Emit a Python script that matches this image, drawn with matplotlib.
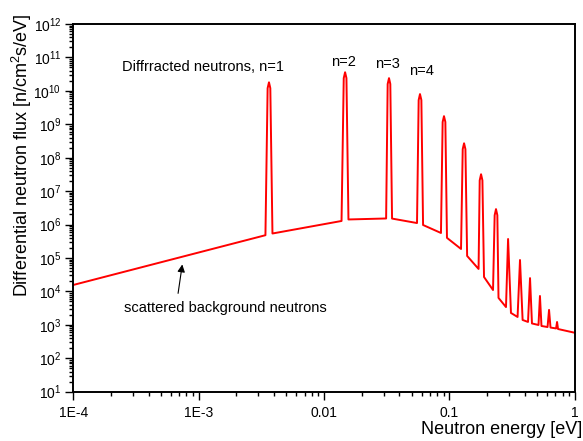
import numpy as np
import matplotlib
matplotlib.use("Agg")
import matplotlib.pyplot as plt
from matplotlib.ticker import LogLocator, FixedLocator, FixedFormatter, NullFormatter, LogFormatterSciNotation

plt.rcParams['font.family'] = ['Liberation Sans', 'DejaVu Sans']
plt.rcParams['mathtext.fontset'] = 'custom'
plt.rcParams['mathtext.rm'] = 'Liberation Sans'
plt.rcParams['mathtext.it'] = 'Liberation Sans:italic'

# Background start / end of the spectrum [eV, n/cm2/s/eV]
start_energy, start_flux = 1e-4, 1.56e4
end_energy, end_flux = 1.0, 580

# Diffraction peaks (order n = 1..14): top of each peak
peak_energy = [3.64e-3, 1.473e-2, 3.30e-2, 5.83e-2, 9.06e-2, 0.131, 0.179,
               0.2355, 0.294, 0.366, 0.440, 0.528, 0.624, 0.723]
peak_flux = [1.8e10, 3.6e10, 2.4e10, 8.0e9, 1.75e9, 2.7e8, 3.2e7,
             2.9e6, 3.7e5, 8.7e4, 2.5e4, 7.3e3, 2.8e3, 1.22e3]

# shoulders just under the rounded tops of the tall peaks (n = 1..8)
shoulder_left = [3.55e-3, 1.437e-2, 3.22e-2, 5.69e-2, 8.84e-2, 0.1278, 0.1746, 0.2298]
shoulder_right = [3.73e-3, 1.510e-2, 3.38e-2, 5.98e-2, 9.29e-2, 0.1343, 0.1835, 0.2414]
shoulder_flux = [1.2e10, 2.4e10, 1.6e10, 5.3e9, 1.17e9, 1.8e8, 2.1e7, 1.9e6]

# Background level just below / above each peak
left_energy = [3.41e-3, 1.38e-2, 3.13e-2, 5.52e-2, 8.57e-2, 0.1239, 0.171,
               0.223, 0.283, 0.350, 0.424, 0.514, 0.607, 0.710]
left_flux = [4.8e5, 1.28e6, 1.52e6, 1.11e6, 5.6e5, 1.86e5, 4.7e4,
             1.1e4, 3.4e3, 1.72e3, 1.22e3, 990, 860, 780]
right_energy = [3.88e-3, 1.567e-2, 3.49e-2, 6.17e-2, 9.57e-2, 0.1386, 0.189,
                0.2466, 0.310, 0.384, 0.456, 0.543, 0.641, 0.736]
right_flux = [5.4e5, 1.42e6, 1.51e6, 9.7e5, 4.0e5, 1.15e5, 2.7e4,
              6.4e3, 2.27e3, 1.4e3, 1.1e3, 925, 830, 750]

xtick_values = [1e-4, 1e-3, 1e-2, 1e-1, 1]
xtick_labels = ["1E-4", "1E-3", "0.01", "0.1", "1"]

# build the spectrum polyline
E = [start_energy]
F = [start_flux]
for i in range(len(peak_energy)):
    E.append(left_energy[i]); F.append(left_flux[i])
    if i < len(shoulder_flux):
        E += [shoulder_left[i], peak_energy[i], shoulder_right[i]]
        F += [shoulder_flux[i], peak_flux[i], shoulder_flux[i]]
    else:
        E.append(peak_energy[i]); F.append(peak_flux[i])
    E.append(right_energy[i]); F.append(right_flux[i])
E.append(end_energy)
F.append(end_flux)

fig = plt.figure(figsize=(5.83, 4.41), dpi=100)
ax = fig.add_axes([0.1257, 0.1118, 0.8601, 0.8338])

ax.plot(E, F, color="red", lw=1.4, solid_joinstyle="round")

ax.set_xscale("log")
ax.set_yscale("log")
ax.set_xlim(1e-4, 1)
ax.set_ylim(10, 1e12)

ax.xaxis.set_major_locator(FixedLocator(xtick_values))
ax.xaxis.set_major_formatter(FixedFormatter(xtick_labels))
ax.xaxis.set_minor_locator(LogLocator(base=10, subs=np.arange(2, 10), numticks=50))
ax.xaxis.set_minor_formatter(NullFormatter())
ax.yaxis.set_major_locator(LogLocator(base=10, numticks=30))
ax.yaxis.set_major_formatter(LogFormatterSciNotation())
ax.yaxis.set_minor_locator(LogLocator(base=10, subs=np.arange(2, 10), numticks=100))
ax.yaxis.set_minor_formatter(NullFormatter())

ax.tick_params(which="both", direction="out", top=False, right=False, width=1.0, labelsize=10)
ax.tick_params(which="major", length=5.5)
ax.tick_params(axis="x", which="major", pad=5)
ax.tick_params(axis="y", which="major", pad=3)
ax.tick_params(which="minor", length=3)
for sp in ax.spines.values():
    sp.set_linewidth(1.4)

# annotations
ax.text(0.2587, 0.883, "Diffrracted neutrons, n=1", transform=ax.transAxes,
        ha="center", va="center", fontsize=10.5)
ax.text(0.538, 0.8975, "n=2", transform=ax.transAxes, ha="center", va="center", fontsize=10.5)
ax.text(0.6257, 0.891, "n=3", transform=ax.transAxes, ha="center", va="center", fontsize=10.5)
ax.text(0.6935, 0.872, "n=4", transform=ax.transAxes, ha="center", va="center", fontsize=10.5)
ax.text(0.3032, 0.2276, "scattered background neutrons", transform=ax.transAxes,
        ha="center", va="center", fontsize=10.5)
ax.annotate("", xy=(0.2182, 0.3535), xycoords="axes fraction",
            xytext=(0.2082, 0.260), textcoords="axes fraction",
            arrowprops=dict(arrowstyle="-|>", color="black", lw=0.8, mutation_scale=11))

fig.text(582 / 583, 1 - 430 / 441, "Neutron energy [eV]", ha="right", va="center", fontsize=13)
fig.text(22 / 583, 1 - 13 / 441, "Differential neutron flux [n/cm$^2$s/eV]",
         rotation=90, ha="center", va="top", fontsize=13)

fig.savefig("out.png", dpi=100)
